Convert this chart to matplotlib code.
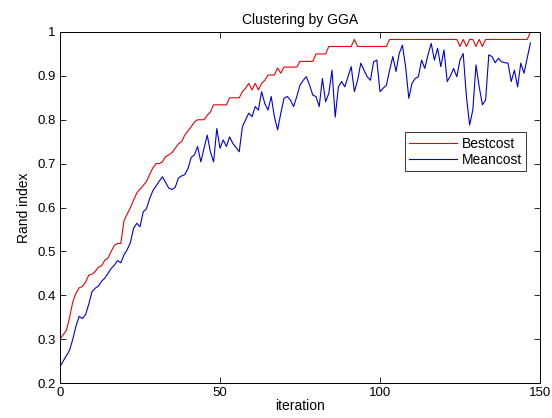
import numpy as np
import matplotlib
matplotlib.use('Agg')
import matplotlib.pyplot as plt

# Rand index por iteração
bestcost = [
    0.300, 0.310, 0.320, 0.350, 0.385, 0.405, 0.417, 0.420, 0.430, 0.446,
    0.448, 0.454, 0.464, 0.467, 0.480, 0.485, 0.500, 0.514, 0.518, 0.518,
    0.570, 0.585, 0.600, 0.617, 0.633, 0.642, 0.650, 0.659, 0.675, 0.690,
    0.700, 0.700, 0.704, 0.716, 0.720, 0.725, 0.735, 0.745, 0.750, 0.765,
    0.775, 0.784, 0.795, 0.800, 0.800, 0.800, 0.810, 0.818, 0.834, 0.834,
    0.834, 0.834, 0.834, 0.850, 0.850, 0.850, 0.850, 0.864, 0.872, 0.883,
    0.868, 0.883, 0.868, 0.883, 0.890, 0.902, 0.902, 0.902, 0.918, 0.906,
    0.920, 0.920, 0.920, 0.920, 0.920, 0.933, 0.933, 0.933, 0.933, 0.933,
    0.950, 0.950, 0.950, 0.950, 0.967, 0.967, 0.967, 0.967, 0.967, 0.967,
    0.967, 0.967, 0.983, 0.967, 0.967, 0.967, 0.967, 0.967, 0.967, 0.967,
    0.967, 0.967, 0.967, 0.983, 0.983, 0.983, 0.983, 0.983, 0.983, 0.983,
    0.983, 0.983, 0.983, 0.983, 0.983, 0.983, 0.983, 0.983, 0.983, 0.983,
    0.983, 0.983, 0.983, 0.983, 0.983, 0.967, 0.983, 0.967, 0.983, 0.983,
    0.967, 0.983, 0.967, 0.983, 0.983, 0.983, 0.983, 0.983, 0.983, 0.983,
    0.983, 0.983, 0.983, 0.983, 0.983, 0.983, 0.983, 1.000,
]
meancost = [
    0.237, 0.250, 0.262, 0.275, 0.300, 0.330, 0.352, 0.347, 0.356, 0.380,
    0.408, 0.416, 0.421, 0.432, 0.439, 0.450, 0.461, 0.469, 0.479, 0.474,
    0.492, 0.504, 0.520, 0.553, 0.564, 0.556, 0.590, 0.597, 0.620, 0.638,
    0.649, 0.660, 0.670, 0.657, 0.644, 0.641, 0.646, 0.667, 0.672, 0.675,
    0.689, 0.714, 0.720, 0.739, 0.704, 0.735, 0.765, 0.727, 0.704, 0.780,
    0.735, 0.754, 0.739, 0.761, 0.746, 0.737, 0.727, 0.784, 0.800, 0.815,
    0.807, 0.830, 0.822, 0.864, 0.837, 0.822, 0.853, 0.807, 0.777, 0.815,
    0.849, 0.853, 0.845, 0.830, 0.853, 0.879, 0.890, 0.898, 0.879, 0.856,
    0.853, 0.830, 0.894, 0.841, 0.860, 0.913, 0.806, 0.875, 0.887, 0.875,
    0.898, 0.921, 0.864, 0.890, 0.929, 0.913, 0.898, 0.890, 0.932, 0.936,
    0.864, 0.872, 0.879, 0.913, 0.944, 0.910, 0.951, 0.970, 0.921, 0.849,
    0.883, 0.894, 0.898, 0.936, 0.917, 0.948, 0.974, 0.936, 0.963, 0.921,
    0.959, 0.887, 0.900, 0.917, 0.898, 0.936, 0.951, 0.853, 0.788, 0.822,
    0.925, 0.875, 0.834, 0.845, 0.948, 0.944, 0.930, 0.940, 0.932, 0.930,
    0.929, 0.887, 0.913, 0.875, 0.929, 0.906, 0.940, 0.975,
]
iteracoes = np.arange(len(bestcost))

xticks = [0, 50, 100, 150]
yticks = [0.2, 0.3, 0.4, 0.5, 0.6, 0.7, 0.8, 0.9, 1.0]
ytick_labels = ['0.2', '0.3', '0.4', '0.5', '0.6', '0.7', '0.8', '0.9', '1']

plt.rcParams['font.family'] = ['Liberation Sans', 'DejaVu Sans']

fig = plt.figure(figsize=(5.52, 4.18), dpi=100)
ax = fig.add_axes([60 / 552, 1 - 383 / 418, 480 / 552, 351 / 418])

ax.plot(iteracoes, bestcost, color='#ee0000', lw=0.8, label='Bestcost')
ax.plot(iteracoes, meancost, color='#0000d8', lw=0.8, label='Meancost')

ax.set_xlim(0, 150)
ax.set_ylim(0.2, 1)
ax.set_xticks(xticks)
ax.set_yticks(yticks)
ax.set_yticklabels(ytick_labels)
ax.tick_params(direction='in', top=True, right=True, length=4, width=0.6,
               labelsize=9.5, pad=3)
for s in ax.spines.values():
    s.set_linewidth(0.7)

ax.set_title('Clustering by GGA', fontsize=10, pad=6)
ax.set_xlabel('iteration', fontsize=10, labelpad=0)
ax.set_ylabel('Rand index', fontsize=10, labelpad=5)

leg = ax.legend(loc='upper left', bbox_to_anchor=(0.719, 0.714), fontsize=10,
                frameon=True, fancybox=False, borderpad=0.3, handlelength=3.4,
                handletextpad=0.4, labelspacing=0.15, borderaxespad=0)
leg.get_frame().set_edgecolor('black')
leg.get_frame().set_linewidth(0.7)

fig.savefig('out.png', dpi=100)
